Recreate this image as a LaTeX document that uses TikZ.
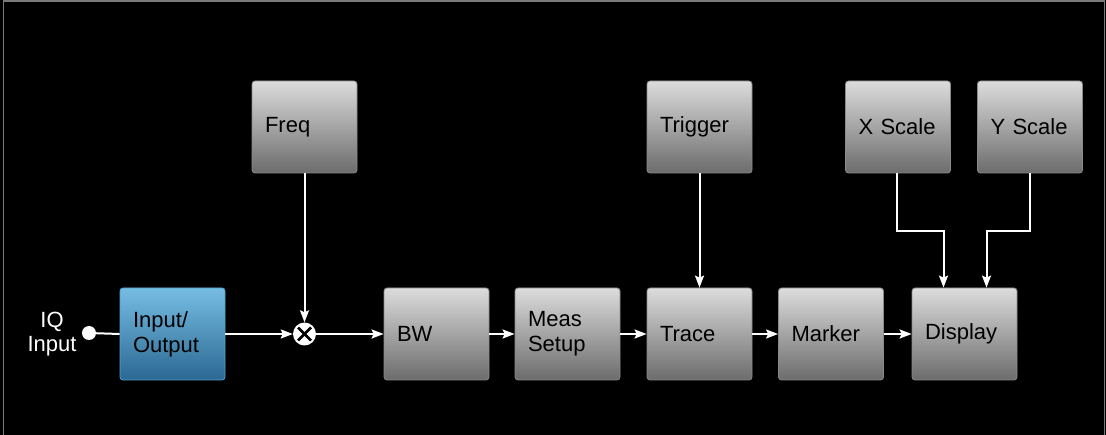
\documentclass[tikz,border=0pt]{standalone}
\usepackage{fontspec}
\setmainfont{Liberation Sans}
\usetikzlibrary{arrows.meta}
\definecolor{gtop}{HTML}{DCDCDC}
\definecolor{gbot}{HTML}{6C6C6C}
\definecolor{gedge}{HTML}{8A8A8A}
\definecolor{btop}{HTML}{76BDE2}
\definecolor{bbot}{HTML}{2B6893}
\definecolor{bedge}{HTML}{4FA3D3}
\definecolor{frame}{HTML}{7A7A7A}
\tikzset{
  gbox/.style={rectangle, rounded corners=3pt, draw=gedge, line width=0.8pt,
    top color=gtop, bottom color=gbot, minimum width=105pt, minimum height=92pt,
    text width=79pt, inner xsep=13pt, inner ysep=0pt, align=left,
    font=\fontsize{22}{25}\selectfont, text=black},
  bbox/.style={gbox, draw=bedge, top color=btop, bottom color=bbot},
  arr/.style={draw=white, line width=2pt, -{Stealth[length=12pt,width=9pt,inset=2pt]}},
  wire/.style={draw=white, line width=2pt},
  lbl/.style={text=white, align=center, font=\fontsize{22}{24}\selectfont, inner sep=0pt},
}
\begin{document}
\begin{tikzpicture}[x=1pt,y=-1pt]
\useasboundingbox (0,0) rectangle (1106,435);
\fill[black] (0,0) rectangle (1106,435);
\draw[frame, line width=1.5pt] (3.5,-2) -- (3.5,1) -- (1104.5,1) -- (1104.5,440);
\draw[frame, line width=1.5pt] (3.5,1) -- (3.5,440);

\node[gbox] (freq) at (304.5,127) {Freq};
\node[bbox] (io) at (172.5,334) {Input/\\Output};
\node[gbox] (bw) at (436.5,334) {BW};
\node[gbox] (meas) at (567.5,334) {Meas\\Setup};
\node[gbox] (trace) at (699.5,334) {Trace};
\node[gbox] (marker) at (831,334) {Marker};
\node[gbox] (disp) at (964.5,334) {Display};
\node[gbox] (trig) at (699.5,127) {Trigger};
\node[gbox] (xs) at (898,127) {X~Scale};
\node[gbox] (ys) at (1030,127) {Y~Scale};

\node[lbl] (iq) at (52,334) {IQ\\Input};
\node[circle, fill=white, minimum size=14pt, inner sep=0pt] (dot) at (89,333) {};
\node[circle, fill=white, minimum size=23pt, inner sep=0pt] (mix) at (304.5,334) {};
\draw[black, line width=2.6pt] ([shift={(-6.5,-6.5)}]mix.center) -- ([shift={(6.5,6.5)}]mix.center);
\draw[black, line width=2.6pt] ([shift={(-6.5,6.5)}]mix.center) -- ([shift={(6.5,-6.5)}]mix.center);

\draw[wire] (dot) -- (io.west);
\draw[arr] (io.east) -- (mix.west);
\draw[arr] (freq.south) -- (mix.north);
\draw[arr] (mix.east) -- (bw.west);
\draw[arr] (bw.east) -- (meas.west);
\draw[arr] (meas.east) -- (trace.west);
\draw[arr] (trace.east) -- (marker.west);
\draw[arr] (marker.east) -- (disp.west);
\draw[arr] (trig.south) -- (trace.north);
\draw[arr] ([xshift=-1pt]xs.south) -- ++(0,58) -| ([xshift=-21pt]disp.north);
\draw[arr] (ys.south) -- ++(0,58) -| ([xshift=22pt]disp.north);
\end{tikzpicture}
\end{document}
